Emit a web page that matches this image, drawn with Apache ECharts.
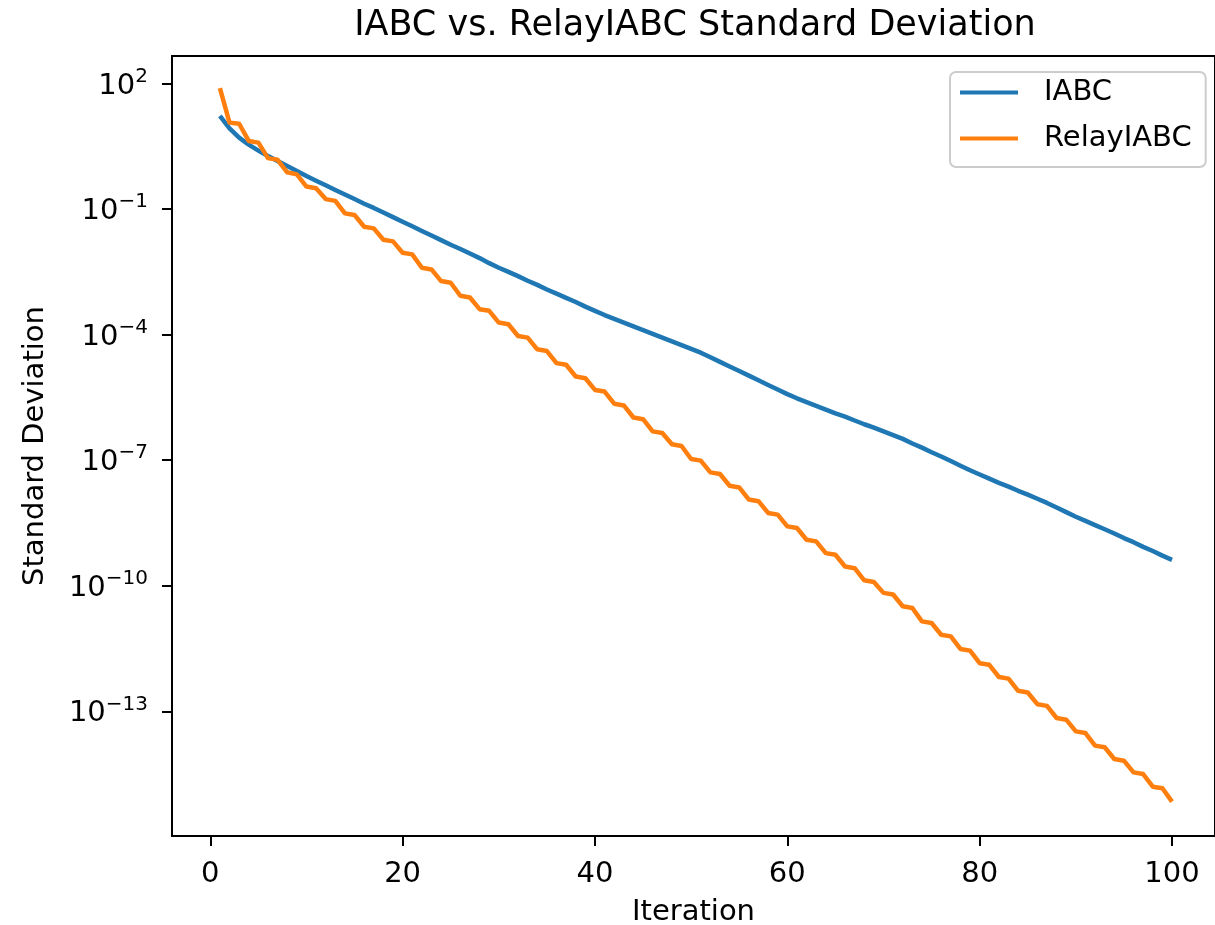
<!DOCTYPE html>
<html>
<head>
<meta charset="utf-8">
<script src="https://cdn.jsdelivr.net/npm/echarts@6/dist/echarts.min.js"></script>
<style>html,body{margin:0;padding:0;background:#fff;}#chart{width:1215px;height:925px;}</style>
</head>
<body>
<div id="chart"></div>
<script>
const iterations = Array.from({length: 100}, (_, i) => i + 1);
const iabc = [
  1.70e1, 8.51e0, 5.13e0, 3.47e0, 2.51e0, 1.86e0, 1.41e0, 1.07e0, 8.13e-1, 6.17e-1,
  4.79e-1, 3.72e-1, 2.88e-1, 2.24e-1, 1.74e-1, 1.35e-1, 1.07e-1, 8.32e-2, 6.46e-2, 5.01e-2,
  3.89e-2, 3.02e-2, 2.34e-2, 1.82e-2, 1.41e-2, 1.12e-2, 8.71e-3, 6.76e-3, 5.13e-3, 3.98e-3,
  3.16e-3, 2.51e-3, 1.95e-3, 1.55e-3, 1.20e-3, 9.55e-4, 7.59e-4, 6.03e-4, 4.68e-4, 3.72e-4,
  2.95e-4, 2.40e-4, 1.95e-4, 1.58e-4, 1.29e-4, 1.05e-4, 8.51e-5, 6.92e-5, 5.62e-5, 4.57e-5,
  3.72e-5, 2.88e-5, 2.24e-5, 1.74e-5, 1.35e-5, 1.05e-5, 8.13e-6, 6.31e-6, 4.90e-6, 3.80e-6,
  3.02e-6, 2.45e-6, 2.00e-6, 1.62e-6, 1.32e-6, 1.10e-6, 8.91e-7, 7.24e-7, 6.03e-7, 4.90e-7,
  3.98e-7, 3.24e-7, 2.51e-7, 2.00e-7, 1.55e-7, 1.23e-7, 9.55e-8, 7.41e-8, 5.75e-8, 4.57e-8,
  3.63e-8, 2.88e-8, 2.34e-8, 1.86e-8, 1.51e-8, 1.20e-8, 9.55e-9, 7.41e-9, 5.75e-9, 4.47e-9,
  3.55e-9, 2.82e-9, 2.24e-9, 1.78e-9, 1.38e-9, 1.10e-9, 8.51e-10, 6.76e-10, 5.25e-10, 4.17e-10
];
const relayIabc = [
  7.76e1, 1.17e1, 1.10e1, 4.27e0, 3.89e0, 1.66e0, 1.51e0, 7.59e-1, 6.76e-1, 3.47e-1,
  3.16e-1, 1.74e-1, 1.58e-1, 7.94e-2, 7.24e-2, 3.80e-2, 3.47e-2, 1.86e-2, 1.70e-2, 9.12e-3,
  8.32e-3, 3.98e-3, 3.63e-3, 1.91e-3, 1.74e-3, 8.51e-4, 7.76e-4, 4.07e-4, 3.72e-4, 1.95e-4,
  1.78e-4, 9.33e-5, 8.51e-5, 4.47e-5, 4.07e-5, 2.09e-5, 1.91e-5, 1.00e-5, 9.12e-6, 4.79e-6,
  4.37e-6, 2.24e-6, 2.04e-6, 1.05e-6, 9.55e-7, 4.90e-7, 4.47e-7, 2.40e-7, 2.19e-7, 1.07e-7,
  9.77e-8, 5.13e-8, 4.68e-8, 2.45e-8, 2.24e-8, 1.15e-8, 1.05e-8, 5.50e-9, 5.01e-9, 2.63e-9,
  2.40e-9, 1.26e-9, 1.15e-9, 6.03e-10, 5.50e-10, 2.88e-10, 2.63e-10, 1.35e-10, 1.23e-10, 6.76e-11,
  6.17e-11, 3.24e-11, 2.95e-11, 1.41e-11, 1.29e-11, 6.76e-12, 6.17e-12, 3.09e-12, 2.82e-12, 1.41e-12,
  1.29e-12, 6.61e-13, 6.03e-13, 3.09e-13, 2.82e-13, 1.48e-13, 1.35e-13, 6.92e-14, 6.31e-14, 3.31e-14,
  3.02e-14, 1.51e-14, 1.38e-14, 7.24e-15, 6.61e-15, 3.47e-15, 3.16e-15, 1.58e-15, 1.45e-15, 6.92e-16
];
const xTicks = [0, 20, 40, 60, 80, 100];
const yTickExponents = [2, -1, -4, -7, -10, -13];
const seriesNames = ['IABC', 'RelayIABC'];
const titleText = 'IABC vs. RelayIABC Standard Deviation';

const FONT = 'DejaVu Sans';
const chart = echarts.init(document.getElementById('chart'), null, {renderer: 'canvas'});
const toPts = (vals) => iterations.map((x, i) => [x, Math.log10(vals[i])]);
const fmtExp = (v) => {
  const e = Math.round(v);
  const s = e < 0 ? '\u2212' + Math.abs(e) : String(e);
  return '{b|10}{s|' + s + '}';
};
chart.setOption({
  animation: false,
  backgroundColor: '#fff',
  title: {
    text: titleText,
    left: 695, top: 8, textAlign: 'center', padding: 0,
    textStyle: {fontFamily: FONT, fontSize: 35, fontWeight: 'normal', color: '#000'}
  },
  legend: {
    orient: 'vertical', left: 950, top: 72,
    padding: [6, 14, 14, 10],
    borderColor: '#cccccc', borderWidth: 2, borderRadius: 6,
    backgroundColor: 'rgba(255,255,255,0.8)',
    icon: 'rect', itemWidth: 58, itemHeight: 4, itemGap: 17,
    textStyle: {fontFamily: FONT, fontSize: 29, color: '#000', padding: [0, 0, 0, 21], lineHeight: 29},
    data: seriesNames
  },
  grid: {left: 172, width: 1043, top: 56, height: 780, outerBoundsMode: 'none', containLabel: false,
         show: true, borderColor: '#000', borderWidth: 2, backgroundColor: 'transparent'},
  xAxis: {
    type: 'value', min: -3.98, max: 104.47,
    name: 'Iteration', nameLocation: 'middle', nameGap: 62,
    nameTextStyle: {fontFamily: FONT, fontSize: 29, color: '#000'},
    axisLine: {show: false, onZero: false},
    splitLine: {show: false},
    axisTick: {show: true, length: 10, lineStyle: {color: '#000', width: 2}, customValues: xTicks},
    axisLabel: {fontFamily: FONT, fontSize: 29, color: '#000', margin: 24, customValues: xTicks}
  },
  yAxis: {
    type: 'value', min: -15.98, max: 2.66,
    name: 'Standard Deviation', nameLocation: 'middle', nameGap: 122,
    nameTextStyle: {fontFamily: FONT, fontSize: 29, color: '#000'},
    axisLine: {show: false, onZero: false},
    splitLine: {show: false},
    axisTick: {show: true, length: 10, lineStyle: {color: '#000', width: 2}, customValues: yTickExponents},
    axisLabel: {
      margin: 24, customValues: yTickExponents,
      formatter: fmtExp,
      rich: {
        b: {fontFamily: FONT, fontSize: 29, color: '#000', verticalAlign: 'bottom', lineHeight: 34},
        s: {fontFamily: FONT, fontSize: 20, color: '#000', verticalAlign: 'top', lineHeight: 34}
      }
    }
  },
  series: [
    {name: seriesNames[0], type: 'line', data: toPts(iabc), showSymbol: false, symbol: 'none',
     color: '#1f77b4', lineStyle: {width: 4.5, color: '#1f77b4', join: 'round'}},
    {name: seriesNames[1], type: 'line', data: toPts(relayIabc), showSymbol: false, symbol: 'none',
     color: '#ff7f0e', lineStyle: {width: 4.5, color: '#ff7f0e', join: 'round'}}
  ]
});
</script>
</body>
</html>
